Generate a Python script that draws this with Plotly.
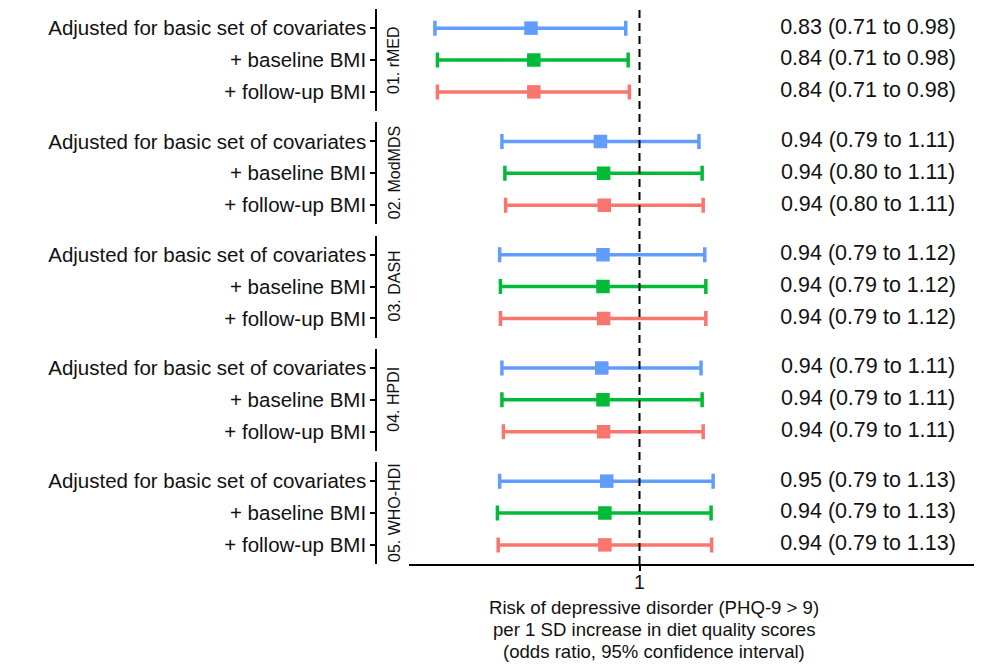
import plotly.graph_objects as go

# ---------------- data ----------------
groups = ["01. rMED", "02. ModMDS", "03. DASH", "04. HPDI", "05. WHO-HDI"]
models = ["Adjusted for basic set of covariates", "+ baseline BMI", "+ follow-up BMI"]
model_colors = ["#619CFF", "#00BA38", "#F8766D"]

# odds ratio estimates per group (rows = models)
estimates = [
    [0.832, 0.836, 0.836],
    [0.936, 0.941, 0.942],
    [0.940, 0.940, 0.941],
    [0.938, 0.940, 0.941],
    [0.946, 0.943, 0.943],
]
lower = [
    [0.707, 0.710, 0.710],
    [0.792, 0.796, 0.797],
    [0.789, 0.790, 0.790],
    [0.792, 0.792, 0.794],
    [0.789, 0.786, 0.787],
]
upper = [
    [0.977, 0.981, 0.983],
    [1.106, 1.112, 1.114],
    [1.117, 1.119, 1.119],
    [1.110, 1.112, 1.114],
    [1.133, 1.129, 1.130],
]
x_tick_vals = [1]
x_tick_text = ["1"]
x_title_lines = [
    "Risk of depressive disorder (PHQ-9 > 9)",
    "per 1 SD increase in diet quality scores",
    "(odds ratio, 95% confidence interval)",
]
label_x = 1.473  # position of the OR (CI) text column, in odds-ratio units

# ---------------- geometry ----------------
OFF = 8  # page body margin of the html page
W, H = 982 - OFF, 666 - OFF
ML, MT = 370 - OFF, 9 - OFF
MR = 2
MB = H - (564 - OFF)
PW = W - ML - MR
PH = H - MT - MB
panel_h = 102
panel_step = 113.25
x_dom0 = (409 - OFF - ML) / PW
yaxis_pos = (376 - OFF - ML) / PW
strip_x = (394 - OFF - ML) / PW
x_range = [-0.16967, 0.25064]

FONT = "Liberation Sans, Arial, sans-serif"
TXT = "#111111"

fig = go.Figure()
layout = {}

for i, g in enumerate(groups):
    sfx = "" if i == 0 else str(i + 1)
    top = 1 - i * panel_step / PH
    bot = top - panel_h / PH
    for j, m in enumerate(models):
        e = estimates[i][j]
        lo = lower[i][j]
        hi = upper[i][j]
        fig.add_trace(go.Scatter(
            x=[e], y=[m], mode="markers",
            marker=dict(symbol="square", size=13.5, color=model_colors[j]),
            error_x=dict(type="data", symmetric=False,
                         array=[hi - e], arrayminus=[e - lo],
                         color=model_colors[j], thickness=3.5, width=7.5),
            xaxis="x" + sfx, yaxis="y" + sfx, showlegend=False,
            hoverinfo="skip",
        ))
    fig.add_trace(go.Scatter(
        x=[label_x] * 3, y=models, mode="text",
        text=[f"{estimates[i][j]:.2f} ({lower[i][j]:.2f} to {upper[i][j]:.2f})" for j in range(3)],
        textposition="middle center",
        textfont=dict(family=FONT, size=21.5, color=TXT),
        xaxis="x" + sfx, yaxis="y" + sfx, showlegend=False, hoverinfo="skip",
    ))
    last = i == len(groups) - 1
    layout["xaxis" + sfx] = dict(
        domain=[x_dom0, 1], anchor="y" + sfx, type="log", range=x_range,
        showgrid=False, zeroline=False,
        showline=last, linecolor="black", linewidth=1.5,
        showticklabels=last, ticks="outside" if last else "",
        ticklen=5, tickwidth=1.5, tickcolor="black",
        tickvals=x_tick_vals, ticktext=x_tick_text,
        ticklabelstandoff=-5,
        tickfont=dict(family=FONT, size=19.5, color=TXT),
    )
    layout["yaxis" + sfx] = dict(
        domain=[bot, top], anchor="free", position=yaxis_pos,
        type="category", categoryorder="array", categoryarray=models,
        range=[2.6, -0.6], showgrid=False, zeroline=False,
        showline=True, linecolor="black", linewidth=1.5,
        ticks="outside", ticklen=5, tickwidth=1.5, tickcolor="black",
        tickfont=dict(family=FONT, size=20.5, color=TXT),
    )
    fig.add_annotation(
        x=strip_x, y=(top + bot) / 2, xref="paper", yref="paper",
        text=g, textangle=-90, showarrow=False,
        font=dict(family=FONT, size=16, color=TXT),
        xanchor="center", yanchor="middle",
    )

# dashed reference line at OR = 1
fig.add_shape(type="line", xref="x5", yref="paper", x0=1, x1=1, y0=0, y1=1,
              line=dict(color="black", width=2, dash="8px,5px"))

# x-axis title lines
for k, line in enumerate(x_title_lines):
    ypix = 607 + 22 * k - OFF
    fig.add_annotation(
        x=(654 - OFF - ML) / PW, y=(H - MB - ypix) / PH, xref="paper", yref="paper",
        text=line, showarrow=False, xanchor="center", yanchor="middle",
        font=dict(family=FONT, size=18.6, color=TXT),
    )

fig.update_layout(
    width=W, height=H,
    margin=dict(l=ML, r=MR, t=MT, b=MB),
    paper_bgcolor="white", plot_bgcolor="white",
    font=dict(family=FONT, color=TXT),
    **layout,
)

fig.write_html("out.html")
